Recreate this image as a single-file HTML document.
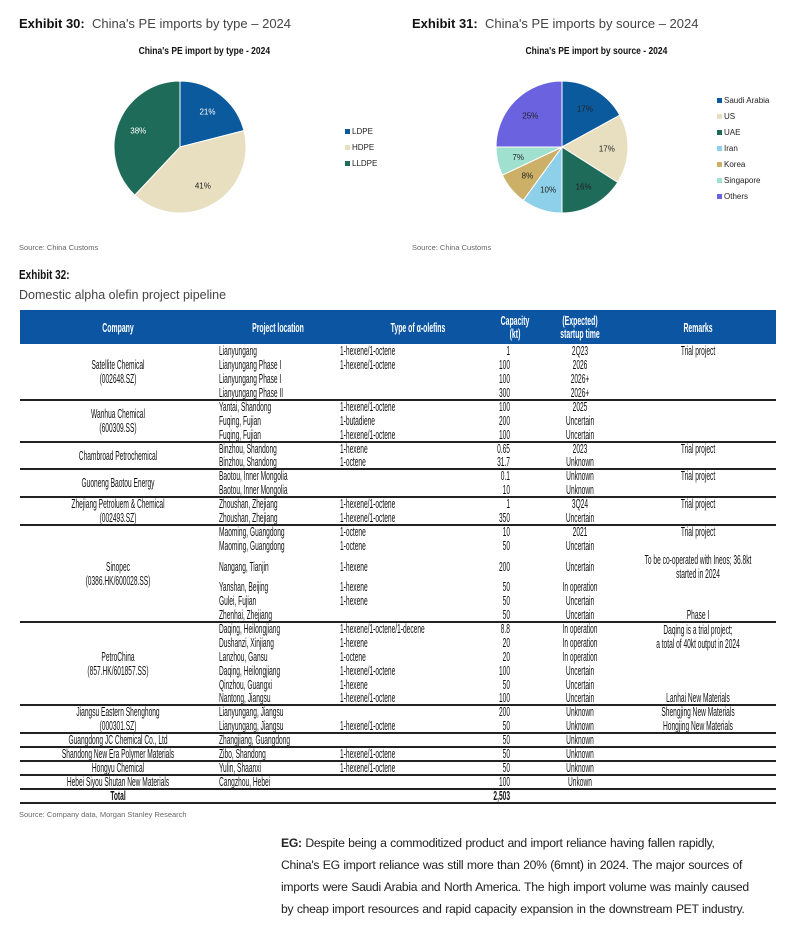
<!DOCTYPE html>
<html><head><meta charset="utf-8">
<style>
body{margin:0;width:800px;height:932px;background:#fff;position:relative;overflow:hidden;font-family:"Liberation Sans",sans-serif;color:#111}
.a{position:absolute;white-space:nowrap}
.ex{font-size:13px;color:#444}
.ex b{color:#111}
.ct{font-weight:bold;font-size:10px;transform:scaleX(0.85);transform-origin:center}
.src{font-size:7.5px;color:#666}
.n{font-size:12.5px;line-height:14px;transform:scaleX(0.53);transform-origin:left}
.nc{transform-origin:center}
.nr{transform-origin:right}
.hd{color:#fff;font-weight:bold;text-align:center;line-height:13px}
p.body{position:absolute;left:281px;top:832px;margin:0;width:520px;font-size:12.2px;line-height:22px;color:#222;letter-spacing:-0.3px;word-spacing:0.5px}
</style></head><body>
<div class="a ex" style="left:19px;top:16px"><b>Exhibit 30:</b>&nbsp; China's PE imports by type – 2024</div>
<div class="a ex" style="left:412px;top:16px"><b>Exhibit 31:</b>&nbsp; China's PE imports by source – 2024</div>
<div class="a ct" style="left:127px;top:46px">China's PE import by type - 2024</div>
<div class="a ct" style="left:513px;top:46px">China's PE import by source - 2024</div>
<svg id="pies" class="a" style="left:0;top:0" width="800" height="260"></svg>
<div class="a src" style="left:19px;top:243px">Source: China Customs</div>
<div class="a src" style="left:412px;top:243px">Source: China Customs</div>

<div class="a" style="left:19px;top:268px;font-size:12.5px;font-weight:bold;transform:scaleX(0.8);transform-origin:left">Exhibit 32:</div>
<div class="a" style="left:19px;top:288px;font-size:12.5px;color:#444">Domestic alpha olefin project pipeline</div>

<div class="a" style="left:20px;top:310px;width:756px;height:34px;background:#0b55a3"></div>
<div id="tbl"></div>
<div class="a src" style="left:19px;top:810px">Source: Company data, Morgan Stanley Research</div>

<p class="body"><b>EG:</b> Despite being a commoditized product and import reliance having fallen rapidly,<br>China's EG import reliance was still more than 20% (6mnt) in 2024. The major sources of<br>imports were Saudi Arabia and North America. The high import volume was mainly caused<br>by cheap import resources and rapid capacity expansion in the downstream PET industry.</p>

<script>
const typeLabels=["LDPE","HDPE","LLDPE"];
const typeValues=[21,41,38];
const typeColors=["#0b5a9e","#e8dfc0","#1f6b5a"];
const srcLabels=["Saudi Arabia","US","UAE","Iran","Korea","Singapore","Others"];
const srcValues=[17,17,16,10,8,7,25];
const srcColors=["#0b5a9e","#e8dfc0","#1f6b5a","#8ed0ea","#ccb068","#9fe0cf","#6a62de"];
const NS="http://www.w3.org/2000/svg";
const svg=document.getElementById('pies');
function pie(vals,cols,cx,cy,r,lightText,name){
  const tot=vals.reduce((a,b)=>a+b,0);let acc=0;
  vals.forEach((v,i)=>{
    const a0=acc/tot*2*Math.PI, a1=(acc+v)/tot*2*Math.PI; acc+=v;
    const x0=cx+r*Math.sin(a0),y0=cy-r*Math.cos(a0),x1=cx+r*Math.sin(a1),y1=cy-r*Math.cos(a1);
    const p=document.createElementNS(NS,'path');
    p.setAttribute('d',`M${cx},${cy}L${x0},${y0}A${r},${r} 0 ${a1-a0>Math.PI?1:0} 1 ${x1},${y1}Z`);
    p.setAttribute('fill',cols[i]);p.setAttribute('stroke','#fff');p.setAttribute('stroke-width','1');
    
    
    svg.appendChild(p);
    const am=(a0+a1)/2;const t=document.createElementNS(NS,'text');
    t.setAttribute('x',cx+r*0.68*Math.sin(am));t.setAttribute('y',cy-r*0.68*Math.cos(am)+3);
    t.setAttribute('text-anchor','middle');t.setAttribute('font-size','8');
    t.setAttribute('font-family','Liberation Sans, sans-serif');
    t.setAttribute('fill',lightText[i]?'#fff':'#222');t.textContent=v+'%';
    
    
    svg.appendChild(t);
  });
}
pie(typeValues,typeColors,180,147,66,[1,0,1],'type-pie');
pie(srcValues,srcColors,562,147,66,[0,0,0,0,0,0,0],'source-pie');
function legend(labels,cols,x,y0,dy,name){
  labels.forEach((l,i)=>{
    const r=document.createElementNS(NS,'rect');r.setAttribute('x',x);r.setAttribute('y',y0+i*dy-5);r.setAttribute('width',5);r.setAttribute('height',5);r.setAttribute('fill',cols[i]);
    
    
    svg.appendChild(r);
    const t=document.createElementNS(NS,'text');t.setAttribute('x',x+7);t.setAttribute('y',y0+i*dy);t.setAttribute('font-size','8');
    t.setAttribute('font-family','Liberation Sans, sans-serif');t.setAttribute('fill','#222');t.textContent=l;
    
    
    svg.appendChild(t);
  });
}
legend(typeLabels,typeColors,345,134,16,'type-legend');
legend(srcLabels,srcColors,717,103,16,'source-legend');

const groups=[
 ["Satellite Chemical\n(002648.SZ)",[["Lianyungang","1-hexene/1-octene","1","2Q23","Trial project"],["Lianyungang Phase I","1-hexene/1-octene","100","2026",""],["Lianyungang Phase I","","100","2026+",""],["Lianyungang Phase II","","300","2026+",""]]],
 ["Wanhua Chemical\n(600309.SS)",[["Yantai, Shandong","1-hexene/1-octene","100","2025",""],["Fuqing, Fujian","1-butadiene","200","Uncertain",""],["Fuqing, Fujian","1-hexene/1-octene","100","Uncertain",""]]],
 ["Chambroad Petrochemical",[["Binzhou, Shandong","1-hexene","0.65","2023","Trial project"],["Binzhou, Shandong","1-octene","31.7","Unknown",""]]],
 ["Guoneng Baotou Energy",[["Baotou, Inner Mongolia","","0.1","Unknown","Trial project"],["Baotou, Inner Mongolia","","10","Unknown",""]]],
 ["Zhejiang Petroluem & Chemical\n(002493.SZ)",[["Zhoushan, Zhejiang","1-hexene/1-octene","1","3Q24","Trial project"],["Zhoushan, Zhejiang","1-hexene/1-octene","350","Uncertain",""]]],
 ["Sinopec\n(0386.HK/600028.SS)",[["Maoming, Guangdong","1-octene","10","2021","Trial project"],["Maoming, Guangdong","1-octene","50","Uncertain",""],["Nangang, Tianjin","1-hexene","200","Uncertain","To be co-operated with Ineos; 36.8kt\nstarted in 2024",2],["Yanshan, Beijing","1-hexene","50","In operation",""],["Gulei, Fujian","1-hexene","50","Uncertain",""],["Zhenhai, Zhejiang","","50","Uncertain","Phase I"]]],
 ["PetroChina\n(857.HK/601857.SS)",[["Daqing, Heilongjiang","1-hexene/1-octene/1-decene","8.8","In operation","@Daqing is a trial project;\na total of 40kt output in 2024"],["Dushanzi, Xinjiang","1-hexene","20","In operation",""],["Lanzhou, Gansu","1-octene","20","In operation",""],["Daqing, Heilongjiang","1-hexene/1-octene","100","Uncertain",""],["Qinzhou, Guangxi","1-hexene","50","Uncertain",""],["Nantong, Jiangsu","1-hexene/1-octene","100","Uncertain","Lanhai New Materials"]]],
 ["Jiangsu Eastern Shenghong\n(000301.SZ)",[["Lianyungang, Jiangsu","","200","Unknown","Shengjing New Materials"],["Lianyungang, Jiangsu","1-hexene/1-octene","50","Unknown","Hongjing New Materials"]]],
 ["Guangdong JC Chemical Co., Ltd",[["Zhangjiang, Guangdong","","50","Unknown",""]]],
 ["Shandong New Era Polymer Materials",[["Zibo, Shandong","1-hexene/1-octene","50","Unknown",""]]],
 ["Hongyu Chemical",[["Yulin, Shaanxi","1-hexene/1-octene","50","Unknown",""]]],
 ["Hebei Siyou Shutan New Materials",[["Cangzhou, Hebei","","100","Unkown",""]]]
];
const tbl=document.getElementById('tbl');
function add(html,style,cls,name){const d=document.createElement('div');d.className='a '+cls;d.style.cssText=style;d.innerHTML=html;
 
 
 tbl.appendChild(d);return d;}
const hdrs=[["Company",118],["Project location",278],["Type of α-olefins",418],["Capacity<br>(kt)",515],["(Expected)<br>startup time",580],["Remarks",698]];
hdrs.forEach(h=>{const lines=h[0].includes('<br>')?2:1;add(h[0],`left:${h[1]-80}px;width:160px;top:${327-lines*6.5}px;font-size:13px`,'n nc hd','header-'+h[0].replace(/<br>.*/,'').toLowerCase().replace(/[^a-z]+/g,'-'));});
const H=13.88;let y=344.5;
groups.forEach((g,gi)=>{
  const gy0=y;
  g[1].forEach(r=>{
    const h=H*(r[5]||1);const cy=y+h/2;
    add(r[0],`left:219px;top:${cy-7}px`,'n','location-cell');
    add(r[1],`left:340px;top:${cy-7}px`,'n','type-cell');
    add(r[2],`left:450px;width:60px;text-align:right;top:${cy-7}px`,'n nr','capacity-cell');
    add(r[3],`left:530px;width:100px;text-align:center;top:${cy-7}px`,'n nc','startup-cell');
    if(r[4]){let t=r[4],top=cy-7;if(t[0]=='@'){t=t.slice(1);top=y+1;}const lines=t.split('\n').length;if(lines>1&&r[4][0]!='@')top=cy-lines*7;
      add(t.replace(/\n/g,'<br>'),`left:548px;width:300px;text-align:center;top:${top}px`,'n nc','remarks-cell');}
    y+=h;
  });
  const gh=y-gy0;const lines=g[0].split('\n').length;
  add(g[0].replace(/\n/g,'<br>'),`left:-32px;width:300px;text-align:center;top:${gy0+gh/2-lines*7}px`,'n nc','company-cell');
  add('',`left:20px;width:756px;top:${y-1}px;height:2px;background:#222`,'','row-separator');
});
add('Total',`left:-32px;width:300px;text-align:center;top:${y+H/2-7}px;font-weight:bold`,'n nc','total-label');
add('2,503',`left:450px;width:60px;text-align:right;top:${y+H/2-7}px;font-weight:bold`,'n nr','total-capacity');
y+=H;
add('',`left:20px;width:756px;top:${y-1}px;height:2px;background:#222`,'','table-bottom-border');
</script>
</body></html>
